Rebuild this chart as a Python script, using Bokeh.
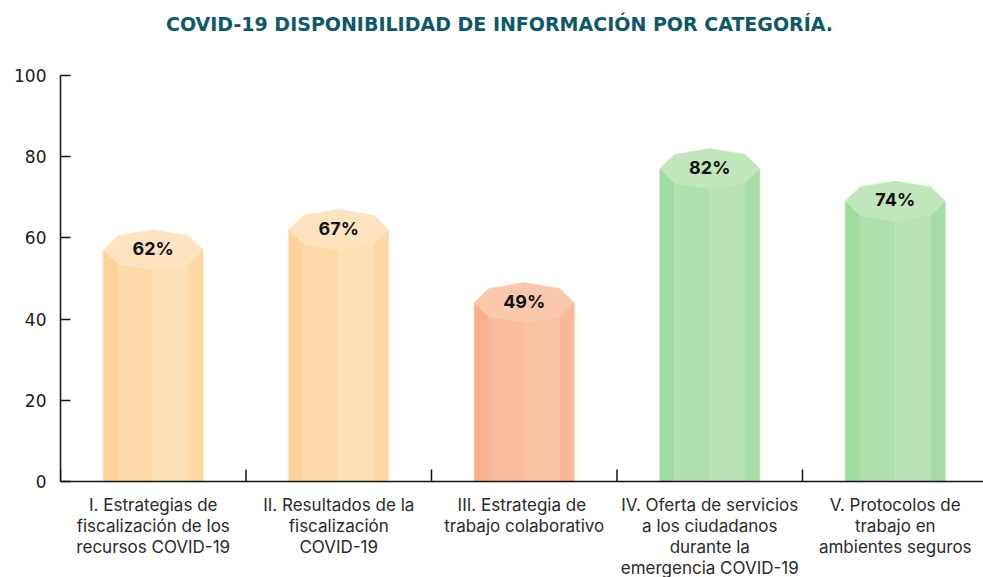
from bokeh.plotting import figure
from bokeh.models import Range1d, FixedTicker, Span
from bokeh.core.properties import value
from bokeh.embed import file_html
from bokeh.resources import INLINE
import math

# ---- data ----
title_text = "COVID-19 DISPONIBILIDAD DE INFORMACIÓN POR CATEGORÍA."
categories = [
    "I. Estrategias de\nfiscalización de los\nrecursos COVID-19",
    "II. Resultados de la\nfiscalización\nCOVID-19",
    "III. Estrategia  de\ntrabajo colaborativo",
    "IV. Oferta de servicios\na los ciudadanos\ndurante la\nemergencia COVID-19",
    "V. Protocolos de\ntrabajo en\nambientes seguros",
]
values = [62, 67, 49, 82, 74]
value_labels = ["62%", "67%", "49%", "82%", "74%"]
y_ticks = [0, 20, 40, 60, 80, 100]

# ---- styles (per bar: left, front-left, front-right, right, top) ----
orange = ["#fed29b", "#fedaa9", "#fee0b5", "#fed8a2", "#fee3c1"]
salmon = ["#f9b08c", "#f9bc9c", "#fac3a4", "#f9b896", "#fac9ac"]
green = ["#9edb9e", "#b0dfac", "#b9e3b5", "#a8dca5", "#c1e6bc"]
bar_colors = [orange, orange, salmon, green, green]

PX_PER_CAT = 185.5
PX_PER_UNIT = 4.06
LEFT = 60
AXIS_TOP_PX = 75      # pixel row of the value 100
BASE_PX = 481         # pixel row of the value 0
W, H = 983, 577
FRAME_W = W - LEFT

y_top = 100 + AXIS_TOP_PX / PX_PER_UNIT
y_bottom = -(H - BASE_PX) / PX_PER_UNIT

p = figure(width=W, height=H, output_backend="svg", toolbar_location=None,
           x_range=Range1d(0, FRAME_W / PX_PER_CAT),
           y_range=Range1d(y_bottom, y_top),
           x_axis_location=None,
           min_border_left=LEFT, min_border_right=0, min_border_top=0, min_border_bottom=0)
p.outline_line_color = None
p.grid.visible = False
p.background_fill_color = "white"

ya = p.yaxis[0]
ya.ticker = FixedTicker(ticks=y_ticks)
ya.bounds = (0, 100)
ya.major_tick_in = 10
ya.major_tick_out = 0
ya.minor_tick_line_color = None
ya.axis_line_width = 1.5
ya.major_tick_line_width = 1.5
ya.axis_line_color = "#111111"
ya.major_tick_line_color = "#111111"
ya.major_label_text_font = "DejaVu Sans"
ya.major_label_text_font_size = "17px"
ya.major_label_text_color = "#1a1a1a"
ya.major_label_standoff = 14

# title (drawn above the value 100 row)
p.text(x=[(499 - LEFT) / PX_PER_CAT], y=[100 + (AXIS_TOP_PX - 23) / PX_PER_UNIT], text=[title_text],
       text_align="center", text_baseline="middle",
       text_font=value("DejaVu Sans"), text_font_style="bold", text_font_size="19px",
       text_color="#0e5868")

# baseline (x axis)
p.add_layout(Span(location=0, dimension="width", line_color="#111111", line_width=1.5))

# category boundary ticks
bounds = list(range(0, len(categories) + 1))
tick_len = 12 / PX_PER_UNIT
p.segment(x0=bounds, y0=[0] * len(bounds), x1=bounds, y1=[tick_len] * len(bounds),
          line_color="#111111", line_width=1.5)

# prisms
hw = 50 / PX_PER_CAT
b = 20 / PX_PER_UNIT
c45 = math.cos(math.pi / 4)
face_xs, face_ys, face_cols = [], [], []
for i, v in enumerate(values):
    c = i + 0.5
    yc = v - b
    cols = bar_colors[i]
    xl, xll, xb, xlr, xr = c - hw, c - hw * c45, c, c + hw * c45, c + hw
    yl, yll, yb = yc, yc - b * c45, yc - b
    faces = [
        ([xl, xl, xll, xll], [0, yl, yll, 0]),
        ([xll, xll, xb, xb], [0, yll, yb, 0]),
        ([xb, xb, xlr, xlr], [0, yb, yll, 0]),
        ([xlr, xlr, xr, xr], [0, yll, yl, 0]),
    ]
    for (fx, fy), col in zip(faces, cols[:4]):
        face_xs.append(fx)
        face_ys.append(fy)
        face_cols.append(col)
    ox = [c + hw * math.cos(k * math.pi / 4) for k in range(8)]
    oy = [yc + b * math.sin(k * math.pi / 4) for k in range(8)]
    face_xs.append(ox)
    face_ys.append(oy)
    face_cols.append(cols[4])

p.patches(xs=face_xs, ys=face_ys, fill_color=face_cols, line_color=face_cols, line_width=0.5)

centers = [i + 0.5 for i in range(len(values))]
p.text(x=centers, y=[v - 4.6 for v in values], text=value_labels,
       text_align="center", text_baseline="middle",
       text_font=value("Inter"), text_font_style="bold", text_font_size="18px",
       text_color="#111111")

# category labels
p.text(x=centers, y=[-3.4] * len(categories), text=categories,
       text_align="center", text_baseline="top",
       text_font=value("Inter"), text_font_size="17px", text_line_height=1.05,
       text_color="#2a2a2a")

open("out.html", "w").write(file_html(p, INLINE))
